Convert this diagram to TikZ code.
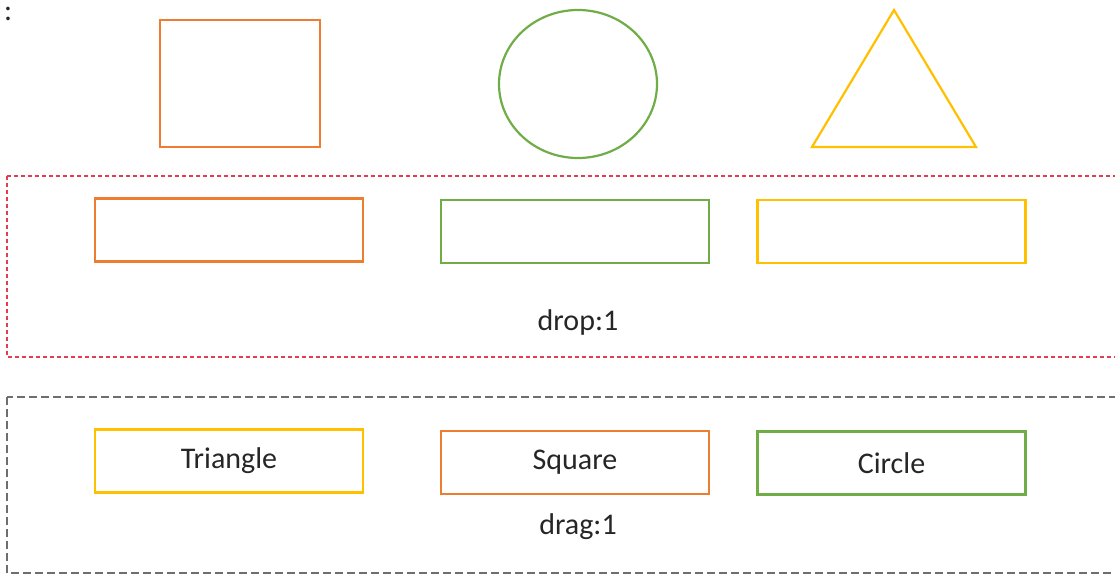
\documentclass[tikz,border=0pt]{standalone}
\usepackage{fontspec}
\setmainfont{Carlito}
\usetikzlibrary{shapes.geometric}

\begin{document}
\begin{tikzpicture}[x=1pt, y=-1pt,
    slotbox/.style={draw, line width=2.2pt, minimum width=268pt, minimum height=63pt, inner sep=0pt,
                    font=\fontsize{30}{34}\selectfont, text=black!85},
    tagtext/.style={font=\fontsize{30}{34}\selectfont, text=black!85}]
    % Define custom colors
    \definecolor{sqorange}{RGB}{237,125,49}
    \definecolor{cigreen}{RGB}{112,173,71}
    \definecolor{tryellow}{RGB}{255,192,0}
    \definecolor{dropred}{RGB}{228,60,80}
    \definecolor{draggray}{RGB}{110,110,110}

    % Page size
    \useasboundingbox (0,0) rectangle (1115,576);
    \clip (0,0) rectangle (1115,576);

    % Stray colon at the top left corner
    \node[tagtext, anchor=base west, inner sep=0pt, text height=14pt, text depth=0pt] (colon) at (4,20) {:};

    % The three shapes
    \node[draw=sqorange, line width=2.2pt, minimum width=160pt, minimum height=127pt, inner sep=0pt]
        (square) at (240,83.5) {};
    \node[draw=cigreen, ellipse, line width=2.2pt, minimum width=158pt, minimum height=148pt, inner sep=0pt]
        (circle) at (578,84) {};
    \coordinate (tritop) at (894,10);
    \coordinate (triright) at (976,147);
    \coordinate (trileft) at (812,147);
    \draw[tryellow, line width=2.2pt] (tritop) -- (triright) -- (trileft) -- cycle;

    % Drop area
    \draw[dropred, line width=1.3pt, dash pattern=on 4pt off 3pt] (7,176) rectangle (1130,357);
    \node[slotbox, draw=sqorange] (dropsq) at (229,230) {};
    \node[slotbox, draw=cigreen] (dropci) at (575,231.5) {};
    \node[slotbox, draw=tryellow] (droptri) at (891.5,231.5) {};
    \node[tagtext] (droptag) at (578,322) {drop:1};

    % Drag area
    \draw[draggray, line width=1.3pt, dash pattern=on 8pt off 4pt] (7,397) rectangle (1130,573);
    \node[slotbox, draw=tryellow] (dragtri) at (229,461) {Triangle};
    \node[slotbox, draw=sqorange] (dragsq) at (575,462.5) {Square};
    \node[slotbox, draw=cigreen] (dragci) at (891.5,463) {Circle};
    \node[tagtext] (dragtag) at (578,527) {drag:1};

\end{tikzpicture}
\end{document}
